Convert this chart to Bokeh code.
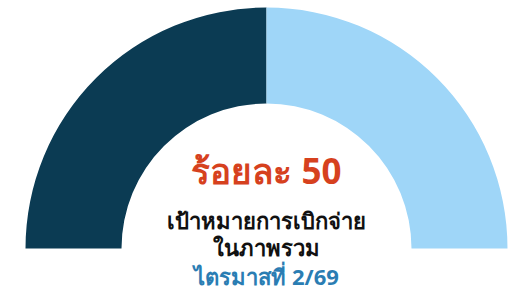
from bokeh.plotting import figure
from bokeh.models import Range1d, ColumnDataSource
from bokeh.core.properties import value
from bokeh.embed import file_html
from bokeh.resources import INLINE
import math

# data
segments = ["ดำเนินการ", "คงเหลือ"]
values = [50, 50]
colors = ["#0b3b53", "#9fd6f8"]
title_text = "ร้อยละ 50"
lines = ["เป้าหมายการเบิกจ่าย", "ในภาพรวม"]
period_text = "ไตรมาสที่ 2/69"

W, H = 514, 294
p = figure(width=W, height=H, output_backend="svg", toolbar_location=None,
           x_range=Range1d(0, W), y_range=Range1d(0, H),
           min_border=0, outline_line_color=None)
p.axis.visible = False
p.grid.visible = False
p.background_fill_color = "white"
p.border_fill_color = "white"

total = sum(values)
starts, ends = [], []
a = math.pi
for v in values:
    b = a - math.pi * v / total
    starts.append(b)
    ends.append(a)
    a = b

cx, cy = 266, 294 - 248
src = ColumnDataSource(dict(x=[cx] * len(values), y=[cy] * len(values),
                            start=starts, end=ends, color=colors))
p.annular_wedge(x="x", y="y", inner_radius=145, outer_radius=241,
                start_angle="start", end_angle="end", fill_color="color",
                line_color=None, source=src)

font = value("Noto Sans")
p.text(x=[cx], y=[294 - 170], text=[title_text], text_font=font, text_font_style="bold",
       text_font_size="35px", text_color="#d6411e", text_align="center",
       text_baseline="middle")
p.text(x=[cx, cx], y=[294 - 219, 294 - 246], text=lines, text_font=font,
       text_font_style="bold", text_font_size="22px", text_color="#111111",
       text_align="center", text_baseline="middle")
p.text(x=[cx], y=[294 - 275], text=[period_text], text_font=font, text_font_style="bold",
       text_font_size="22px", text_color="#2a7db3", text_align="center",
       text_baseline="middle")

open("out.html", "w").write(file_html(p, INLINE))
